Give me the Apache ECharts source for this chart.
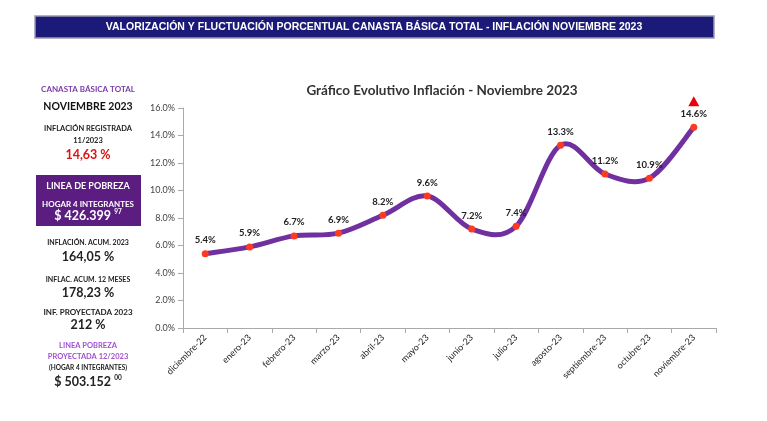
<!DOCTYPE html>
<html><head><meta charset="utf-8">
<script src="https://cdn.jsdelivr.net/npm/echarts@6/dist/echarts.min.js"></script>
<style>html,body{margin:0;padding:0;background:#fff}#c{width:767px;height:421px}</style>
</head><body><div id="c"></div>
<script>
const categories = ['diciembre-22','enero-23','febrero-23','marzo-23','abril-23','mayo-23','junio-23','julio-23','agosto-23','septiembre-23','octubre-23','noviembre-23'];
const inflation = [5.4, 5.9, 6.7, 6.9, 8.2, 9.6, 7.2, 7.4, 13.3, 11.2, 10.9, 14.6];
const yTicks = [0, 2, 4, 6, 8, 10, 12, 14, 16];

const F = 'Lato, "Open Sans", sans-serif';
const chart = echarts.init(document.getElementById('c'));
function t(x, y, text, size, color, weight) {
  return {type:'text', x:x, y:y, style:{text:text, font:(weight||'bold')+' '+size+'px '+F, fill:color||'#111', align:'center', verticalAlign:'middle'}};
}
function money(x, y, main, sup, color) {
  return {type:'text', x:x, y:y, style:{text:'{m|'+main+'} {s|'+sup+'}', align:'center', verticalAlign:'middle',
    rich:{m:{fontFamily:F, fontWeight:'bold', fontSize:12.5, fill:color, color:color, lineHeight:15},
          s:{fontFamily:F, fontWeight:'bold', fontSize:6.5, fill:color, color:color, verticalAlign:'top', lineHeight:15, padding:[0,0,6,0]}}}};
}
// Excel-style smoothed segment between point i and i+1, through axis coordinates
function renderSegment(params, api) {
  const i = params.dataIndex, n = inflation.length;
  if (i >= n - 1) return null;
  const P = k => api.coord([Math.max(0, Math.min(n - 1, k)), inflation[Math.max(0, Math.min(n - 1, k))]]);
  const p0 = P(i - 1), p1 = P(i), p2 = P(i + 1), p3 = P(i + 2);
  const c1 = [p1[0] + (p2[0] - p0[0]) / 6, p1[1] + (p2[1] - p0[1]) / 6];
  const c2 = [p2[0] - (p3[0] - p1[0]) / 6, p2[1] - (p3[1] - p1[1]) / 6];
  return {type:'bezierCurve', shape:{x1:p1[0], y1:p1[1], x2:p2[0], y2:p2[1], cpx1:c1[0], cpy1:c1[1], cpx2:c2[0], cpy2:c2[1]},
    style:{stroke:'#7030A0', lineWidth:5, fill:null, lineCap:'round'}};
}
const cx = 88;
chart.setOption({
  animation:false,
  title:{text:'Gráfico Evolutivo Inflación - Noviembre 2023', left:437, top:79, textAlign:'center',
    textStyle:{fontFamily:F, fontSize:13.5, fontWeight:'bold', color:'#333'}},
  grid:{left:183, right:51, top:108, bottom:93},
  xAxis:{type:'category', data:categories, boundaryGap:true,
    axisLine:{lineStyle:{color:'#aaa'}}, axisTick:{show:true, alignWithLabel:false, lineStyle:{color:'#aaa'}},
    axisLabel:{rotate:45, fontFamily:F, fontSize:9, color:'#222', margin:8}},
  yAxis:{type:'value', min:0, max:16, interval:2, splitLine:{show:false},
    axisLine:{show:true, lineStyle:{color:'#aaa'}}, axisTick:{show:true, lineStyle:{color:'#aaa'}},
    axisLabel:{fontFamily:F, fontSize:9, color:'#444', formatter:v=>v.toFixed(1)+'%'}},
  series:[
    {type:'custom', data:inflation, renderItem:renderSegment, z:1, silent:true},
    {type:'line', data:inflation, symbol:'circle', symbolSize:7, z:3,
    lineStyle:{width:0, opacity:0},
    itemStyle:{color:'#FF3B1F', borderWidth:0},
    label:{show:true, position:'top', distance:5, fontFamily:F, fontSize:9.5, fontWeight:'bold', color:'#222',
      formatter:p=>p.value.toFixed(1)+'%'},
    markPoint:{data:[{coord:[categories[11], inflation[11]], symbol:'triangle', symbolSize:[11,10], symbolOffset:[0,-26],
      itemStyle:{color:'#e8000b'}, label:{show:false}}]}
  }],
  graphic:[
    {type:'rect', shape:{x:35, y:16, width:679, height:22}, style:{fill:'#1b1a78', stroke:'#9a9ab0', lineWidth:1.5}},
    {type:'text', x:374, y:27, style:{text:'VALORIZACIÓN Y FLUCTUACIÓN PORCENTUAL CANASTA BÁSICA TOTAL - INFLACIÓN NOVIEMBRE 2023',
      font:'900 10.5px "Liberation Sans", Arial, sans-serif', fill:'#fff', align:'center', verticalAlign:'middle'}},
    t(cx, 89, 'CANASTA BÁSICA TOTAL', 8, '#7a3aa8'),
    t(cx, 107, 'NOVIEMBRE 2023', 10.5, '#111'),
    t(cx, 129, 'INFLACIÓN REGISTRADA', 7.5, '#222'),
    t(cx, 141, '11/2023', 7.5, '#222'),
    t(cx, 155, '14,63 %', 12.5, '#e01010'),
    {type:'rect', shape:{x:36, y:175, width:105, height:51}, style:{fill:'#5b1e80'}},
    t(cx, 186, 'LINEA DE POBREZA', 9, '#fff'),
    t(cx, 204, 'HOGAR 4 INTEGRANTES', 8, '#fff'),
    money(cx, 216, '$ 426.399', '97', '#fff'),
    t(cx, 243, 'INFLACIÓN. ACUM. 2023', 7, '#222'),
    t(cx, 257, '164,05 %', 12.5, '#222'),
    t(cx, 280, 'INFLAC. ACUM. 12 MESES', 7, '#222'),
    t(cx, 293, '178,23 %', 12.5, '#222'),
    t(cx, 312, 'INF. PROYECTADA 2023', 8, '#222'),
    t(cx, 325, '212 %', 12.5, '#222'),
    t(cx, 346, 'LINEA POBREZA', 7.5, '#a050d0'),
    t(cx, 357, 'PROYECTADA 12/2023', 7.5, '#a050d0'),
    t(cx, 368, '(HOGAR 4 INTEGRANTES)', 6.5, '#222'),
    money(cx, 382, '$ 503.152', '00', '#222')
  ]
});
</script></body></html>
